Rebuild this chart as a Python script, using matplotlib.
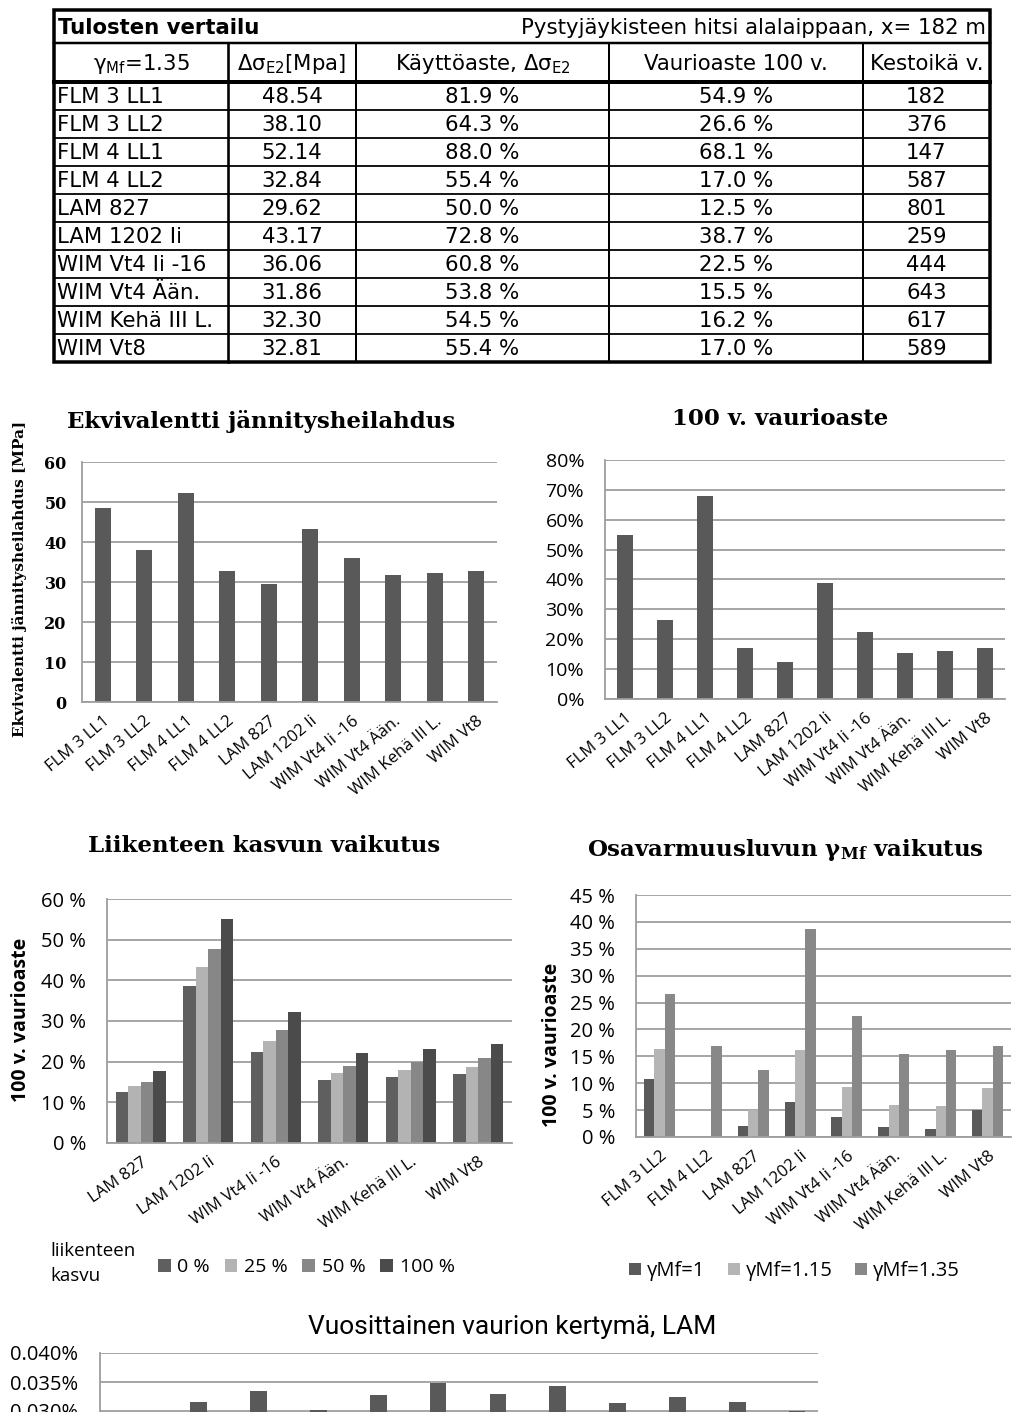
import matplotlib
matplotlib.use("Agg")
import matplotlib.pyplot as plt
from matplotlib.ticker import FuncFormatter, MultipleLocator, FixedLocator
from matplotlib.patches import Rectangle
import numpy as np

W, H = 1024, 1412

# ---------------- data ----------------
table_title = "Tulosten vertailu"
table_subtitle = "Pystyjäykisteen hitsi alalaippaan, x= 182 m"
table_headers = ["γ${}_{\\mathrm{Mf}}$=1.35", "Δσ${}_{\\mathrm{E2}}$[Mpa]",
                 "Käyttöaste, Δσ${}_{\\mathrm{E2}}$", "Vaurioaste 100 v.", "Kestoikä v."]
cases = ["FLM 3 LL1", "FLM 3 LL2", "FLM 4 LL1", "FLM 4 LL2", "LAM 827",
         "LAM 1202 Ii", "WIM Vt4 Ii -16", "WIM Vt4 Ään.", "WIM Kehä III L.", "WIM Vt8"]
stress_range = [48.54, 38.10, 52.14, 32.84, 29.62, 43.17, 36.06, 31.86, 32.30, 32.81]
utilization = [81.9, 64.3, 88.0, 55.4, 50.0, 72.8, 60.8, 53.8, 54.5, 55.4]
damage_100 = [54.9, 26.6, 68.1, 17.0, 12.5, 38.7, 22.5, 15.5, 16.2, 17.0]
life_years = [182, 376, 147, 587, 801, 259, 444, 643, 617, 589]

growth_cases = ["LAM 827", "LAM 1202 Ii", "WIM Vt4 Ii -16", "WIM Vt4 Ään.",
                "WIM Kehä III L.", "WIM Vt8"]
growth_labels = ["0 %", "25 %", "50 %", "100 %"]
growth_0 = [12.5, 38.7, 22.5, 15.5, 16.2, 17.0]
growth_25 = [13.9, 43.3, 25.1, 17.2, 17.9, 18.8]
growth_50 = [15.1, 47.7, 27.7, 19.0, 20.0, 20.8]
growth_100 = [17.8, 55.2, 32.2, 22.2, 23.1, 24.3]

gamma_cases = ["FLM 3 LL2", "FLM 4 LL2", "LAM 827", "LAM 1202 Ii", "WIM Vt4 Ii -16",
               "WIM Vt4 Ään.", "WIM Kehä III L.", "WIM Vt8"]
gamma_labels = ["γMf=1", "γMf=1.15", "γMf=1.35"]
gamma_1 = [10.75, 0.0, 2.0, 6.55, 3.7, 1.85, 1.5, 5.1]
gamma_115 = [16.3, 0.0, 5.1, 16.1, 9.3, 5.9, 5.8, 9.2]
gamma_135 = [26.6, 17.0, 12.5, 38.7, 22.5, 15.5, 16.2, 17.0]

# annual damage (%), visible bars in slots 2..12 of 12
annual_slots = [1, 2, 3, 4, 5, 6, 7, 8, 9, 10, 11]
annual_damage = [0.0315, 0.0335, 0.0302, 0.0328, 0.0348, 0.0329,
                 0.0343, 0.0314, 0.0324, 0.0316, 0.0300]
annual_nslots = 12
annual_ticks = [0.030, 0.035, 0.040]

# ---------------- styles ----------------
GRID = "#9e9e9e"
BAR = "#595959"
growth_colors = ["#5f5f5f", "#b3b3b3", "#878787", "#4b4b4b"]
gamma_colors = ["#5a5a5a", "#b5b5b5", "#888888"]
SERIF = "DejaVu Serif"
SANS = "Open Sans"
TSANS = "DejaVu Sans"
XFS = 12
YFS = 14.5

fig = plt.figure(figsize=(W / 100, H / 100), dpi=100)


def box(x0, y0, x1, y1):
    return [x0 / W, 1 - y1 / H, (x1 - x0) / W, (y1 - y0) / H]


def style_axes(ax):
    for s in ("top", "right"):
        ax.spines[s].set_visible(False)
    for s in ("left", "bottom"):
        ax.spines[s].set_color(GRID)
        ax.spines[s].set_linewidth(1.3)
    ax.yaxis.grid(True, color=GRID, linewidth=1.3)
    ax.set_axisbelow(True)
    ax.tick_params(length=0)


# ---------------- table ----------------
tax = fig.add_axes([0, 0, 1, 1])
tax.set_xlim(0, W)
tax.set_ylim(H, 0)
tax.axis("off")
tax.set_zorder(5)
tax.patch.set_alpha(0)

tx0, tx1, ty0, ty1 = 54, 990, 10, 362
col_x = [54, 228, 356, 609, 863, 990]
title_bot, head_bot = 43, 82
row_h = (ty1 - head_bot) / len(cases)


def pxlw(p):
    return p * 0.72

tax.add_patch(Rectangle((tx0, ty0), tx1 - tx0, ty1 - ty0, fill=False,
                        lw=pxlw(3.5), ec="black"))
tax.plot([tx0, tx1], [title_bot, title_bot], color="black", lw=pxlw(2.5))
tax.plot([tx0, tx1], [head_bot, head_bot], color="black", lw=pxlw(4))
for i in range(1, len(cases)):
    y = head_bot + i * row_h
    tax.plot([tx0, tx1], [y, y], color="black", lw=pxlw(1.8))
for j, xx in enumerate(col_x[1:-1]):
    tax.plot([xx, xx], [title_bot, ty1], color="black", lw=pxlw(2.6 if j == 0 else 2))

TFS = 15.3
tax.text(58, (ty0 + title_bot) / 2 + 1, table_title, fontsize=TFS, fontweight="bold",
         family=TSANS, ha="left", va="center")
tax.text(986, (ty0 + title_bot) / 2 + 1, table_subtitle, fontsize=TFS, family=TSANS,
         ha="right", va="center")
for j, h in enumerate(table_headers):
    cx = (col_x[j] + col_x[j + 1]) / 2
    tax.text(cx, (title_bot + head_bot) / 2 + 1, h, fontsize=TFS, family=TSANS,
             ha="center", va="center", math_fontfamily="dejavusans")
for i, name in enumerate(cases):
    cy = head_bot + (i + 0.5) * row_h + 1
    vals = [f"{stress_range[i]:.2f}", f"{utilization[i]:.1f} %",
            f"{damage_100[i]:.1f} %", f"{life_years[i]}"]
    tax.text(57, cy, name, fontsize=TFS, family=TSANS, ha="left", va="center")
    for j, v in enumerate(vals):
        cx = (col_x[j + 1] + col_x[j + 2]) / 2
        tax.text(cx, cy, v, fontsize=TFS, family=TSANS, ha="center", va="center")

# ---------------- chart 1 ----------------
ax1 = fig.add_axes(box(82, 462, 497, 702))
x = np.arange(len(cases))
ax1.bar(x, stress_range, width=0.39, color=BAR)
ax1.set_xlim(-0.5, len(cases) - 0.5)
ax1.set_ylim(0, 60)
ax1.yaxis.set_major_locator(MultipleLocator(10))
style_axes(ax1)
ax1.set_xticks(x)
ax1.set_xticklabels(cases, rotation=40, ha="right", rotation_mode="anchor",
                    fontsize=XFS, family=SANS)
ax1.tick_params(axis="x", pad=8)
ax1.tick_params(axis="y", pad=11)
for lab in ax1.get_yticklabels():
    lab.set_fontfamily(SERIF)
    lab.set_fontweight("bold")
    lab.set_fontsize(11.5)
fig.text(261 / W, 1 - 421 / H, "Ekvivalentti jännitysheilahdus", family=SERIF,
         fontweight="bold", fontsize=16.5, ha="center", va="center")
fig.text(20 / W, 1 - 579 / H, "Ekvivalentti jännitysheilahdus [MPa]", family=SERIF,
         fontweight="bold", fontsize=11, ha="center", va="center", rotation=90)

# ---------------- chart 2 ----------------
ax2 = fig.add_axes(box(605, 460, 1005, 699))
ax2.bar(x, damage_100, width=0.39, color=BAR)
ax2.set_xlim(-0.5, len(cases) - 0.5)
ax2.set_ylim(0, 80)
ax2.yaxis.set_major_locator(MultipleLocator(10))
ax2.yaxis.set_major_formatter(FuncFormatter(lambda v, p: f"{v:.0f}%"))
style_axes(ax2)
ax2.set_xticks(x)
ax2.set_xticklabels(cases, rotation=40, ha="right", rotation_mode="anchor",
                    fontsize=XFS, family=SANS)
ax2.tick_params(axis="x", pad=8)
ax2.tick_params(axis="y", pad=15, labelsize=14)
for lab in ax2.get_yticklabels():
    lab.set_fontfamily(SANS)
fig.text(780 / W, 1 - 419 / H, "100 v. vaurioaste", family=SERIF,
         fontweight="bold", fontsize=16.5, ha="center", va="center")

# ---------------- chart 3 ----------------
ax3 = fig.add_axes(box(107, 899, 512, 1143))
xg = np.arange(len(growth_cases))
bw = 0.184
series3 = [growth_0, growth_25, growth_50, growth_100]
bars3 = []
for k, (vals, col) in enumerate(zip(series3, growth_colors)):
    b = ax3.bar(xg + (k - 1.5) * bw, vals, width=bw, color=col, label=growth_labels[k])
    bars3.append(b)
ax3.set_xlim(-0.5, len(growth_cases) - 0.5)
ax3.set_ylim(0, 60)
ax3.yaxis.set_major_locator(MultipleLocator(10))
ax3.yaxis.set_major_formatter(FuncFormatter(lambda v, p: f"{v:.0f} %"))
style_axes(ax3)
ax3.set_xticks(xg)
ax3.set_xticklabels(growth_cases, rotation=35, ha="right", rotation_mode="anchor",
                    fontsize=XFS, family=SANS)
ax3.tick_params(axis="x", pad=8)
ax3.tick_params(axis="y", pad=15, labelsize=YFS)
for lab in ax3.get_yticklabels():
    lab.set_fontfamily(SANS)
fig.text(264 / W, 1 - 846 / H, "Liikenteen kasvun vaikutus", family=SERIF,
         fontweight="bold", fontsize=16.5, ha="center", va="center")
fig.text(21 / W, 1 - 1020 / H, "100 v. vaurioaste", family=SANS,
         fontweight="bold", fontsize=14, ha="center", va="center", rotation=90)
fig.text(50 / W, 1 - 1251 / H, "liikenteen", family=SANS, fontsize=13.5,
         ha="left", va="center")
fig.text(50 / W, 1 - 1276 / H, "kasvu", family=SANS, fontsize=13.5,
         ha="left", va="center")
fig.legend(bars3, growth_labels, loc="center left",
           bbox_to_anchor=(158 / W, 1 - 1267 / H), ncol=4, frameon=False,
           prop={"family": SANS, "size": 14}, handlelength=0.65, handleheight=0.65,
           handletextpad=0.35, columnspacing=0.75, borderaxespad=0, borderpad=0)

# ---------------- chart 4 ----------------
ax4 = fig.add_axes(box(636, 895, 1011, 1137))
xm = np.arange(len(gamma_cases))
bw4 = 0.22
series4 = [gamma_1, gamma_115, gamma_135]
bars4 = []
for k, (vals, col) in enumerate(zip(series4, gamma_colors)):
    b = ax4.bar(xm + (k - 1) * bw4, vals, width=bw4, color=col, label=gamma_labels[k])
    bars4.append(b)
ax4.set_xlim(-0.5, len(gamma_cases) - 0.5)
ax4.set_ylim(0, 45)
ax4.yaxis.set_major_locator(MultipleLocator(5))
ax4.yaxis.set_major_formatter(FuncFormatter(lambda v, p: f"{v:.0f} %"))
style_axes(ax4)
ax4.set_xticks(xm)
ax4.set_xticklabels(gamma_cases, rotation=40, ha="right", rotation_mode="anchor",
                    fontsize=XFS, family=SANS)
ax4.tick_params(axis="x", pad=8)
ax4.tick_params(axis="y", pad=15, labelsize=YFS)
for lab in ax4.get_yticklabels():
    lab.set_fontfamily(SANS)
fig.text(785 / W, 1 - 850 / H, "Osavarmuusluvun γ${}_{\\mathbf{Mf}}$ vaikutus",
         family=SERIF, fontweight="bold", fontsize=16.5, ha="center", va="center",
         math_fontfamily="dejavuserif")
fig.text(552 / W, 1 - 1045 / H, "100 v. vaurioaste", family=SANS,
         fontweight="bold", fontsize=14, ha="center", va="center", rotation=90)
fig.legend(bars4, gamma_labels, loc="center left",
           bbox_to_anchor=(629 / W, 1 - 1271 / H), ncol=3, frameon=False,
           prop={"family": SANS, "size": 14.5}, handlelength=0.6, handleheight=0.6,
           handletextpad=0.3, columnspacing=1.1, borderaxespad=0, borderpad=0)

# ---------------- chart 5 ----------------
ax5 = fig.add_axes(box(100, 1353, 818, 1353 + 8 * 29))
ax5.bar(np.array(annual_slots) + 0.15, annual_damage, width=0.28, color=BAR)
ax5.set_xlim(-0.5, annual_nslots - 0.5)
ax5.set_ylim(0, 0.040)
ax5.yaxis.set_major_locator(FixedLocator(annual_ticks))
ax5.yaxis.set_major_formatter(FuncFormatter(lambda v, p: f"{v:.3f}%"))
style_axes(ax5)
ax5.set_xticks([])
ax5.tick_params(axis="y", pad=16, labelsize=14.5)
for lab in ax5.get_yticklabels():
    lab.set_fontfamily(SANS)
fig.text(512 / W, 1 - 1327 / H, "Vuosittainen vaurion kertymä, LAM",
         family="Roboto", fontsize=19, ha="center", va="center")

fig.savefig("out.png", dpi=100)
